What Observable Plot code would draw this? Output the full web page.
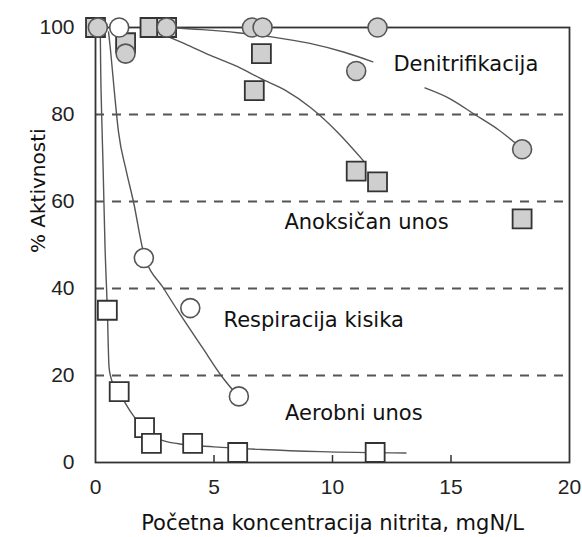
<!DOCTYPE html>
<html>
<head>
<meta charset="utf-8">
<script src="https://cdn.jsdelivr.net/npm/d3@7"></script>
<script src="https://cdn.jsdelivr.net/npm/@observablehq/plot@0.6"></script>
<style>
  html, body { margin: 0; padding: 0; background: white; }
</style>
</head>
<body>
<script>
// Axis ticks
const xTicks = [0, 5, 10, 15, 20];
const xInnerTicks = [5, 10, 15];
const yTicks = [0, 20, 40, 60, 80, 100];
const gridY = [20, 40, 60, 80];
const tickLen = 1.6; // inward tick length, in % units

// Denitrifikacija (gray circles)
const denitX = [0.1, 1.27, 3.0, 6.6, 7.05, 11.0, 11.9, 18.0];
const denitY = [100, 94, 100, 100, 100, 90, 100, 72];
// Anoksičan unos (gray squares)
const anoxX = [0, 1.27, 2.3, 3.0, 6.7, 7.0, 11.0, 11.9, 18.0];
const anoxY = [100, 96.5, 100, 100, 85.5, 94, 67, 64.5, 56];
// Respiracija kisika (white circles)
const respX = [1.0, 2.04, 4.0, 6.05];
const respY = [100, 47, 35.5, 15.2];
// Aerobni unos (white squares)
const aerX = [0.5, 1.0, 2.07, 2.36, 4.1, 6.0, 11.8];
const aerY = [35, 16.3, 8, 4.4, 4.4, 2.3, 2.3];

// Fitted curves
const denitCurveX = [3.0, 4.5, 6.0, 7.5, 9.0, 10.5, 11.7, 13.9, 15.0, 16.0, 17.0, 17.9];
const denitCurveY = [100, 99.5, 98.8, 97.8, 96.4, 94.3, 92.1, 86.1, 83.5, 80, 76.5, 72.6];
const denitCurveSeg = [1, 1, 1, 1, 1, 1, 1, 2, 2, 2, 2, 2];
const anoxCurveX = [2.3, 2.75, 3.8, 4.85, 6.0, 6.96, 8.0, 9.07, 10.2, 11.3];
const anoxCurveY = [100, 98.7, 96.2, 93.6, 91, 88.3, 85.6, 81.6, 76, 69.4];
const respCurveX = [0.55, 0.63, 0.8, 0.97, 1.3, 1.6, 2.04, 2.88, 3.7, 4.5, 5.3, 6.05];
const respCurveY = [99, 95, 85, 76, 67, 60, 48, 40, 33, 26.5, 20, 15];
const aerCurveX = [0.2, 0.22, 0.26, 0.32, 0.4, 0.5, 0.57, 0.65, 0.8, 1.05, 1.5, 2.0, 2.7, 3.5, 5.0, 7.0, 9.5, 13.1];
const aerCurveY = [100, 90, 80, 68, 50, 35, 22, 19.5, 17.5, 15.5, 11.5, 8, 5.3, 4.3, 3.6, 3.0, 2.5, 2.2];

// Labels
const labelText = ["Denitrifikacija", "Anoksičan unos", "Respiracija kisika", "Aerobni unos"];
const labelX = [12.57, 7.97, 5.4, 8.0];
const labelY = [91.6, 55.2, 32.8, 11.4];
const xTitle = "Početna koncentracija nitrita, mgN/L";
const yTitle = "% Aktivnosti";

const pts = (xs, ys) => xs.map((x, i) => ({x, y: ys[i]}));
const denit = pts(denitX, denitY);
const anox = pts(anoxX, anoxY);
const resp = pts(respX, respY);
const aer = pts(aerX, aerY);
const denitCurve = denitCurveX.map((x, i) => ({x, y: denitCurveY[i], seg: denitCurveSeg[i]}));
const anoxCurve = pts(anoxCurveX, anoxCurveY);
const respCurve = pts(respCurveX, respCurveY);
const aerCurve = pts(aerCurveX, aerCurveY);
const labels = labelText.map((t, i) => ({t, x: labelX[i], y: labelY[i]}));

const markerStroke = "#333";
const grayFill = "#cfcfcf";
const curveStroke = "#555";
const textFont = "DejaVu Sans";

const chart = Plot.plot({
  width: 582,
  height: 537,
  marginLeft: 95,
  marginRight: 13,
  marginTop: 27,
  marginBottom: 75,
  x: {domain: [0, 20]},
  y: {domain: [0, 100]},
  style: {background: "white", fontFamily: textFont},
  marks: [
    Plot.ruleY(gridY, {stroke: "#555", strokeWidth: 2, strokeDasharray: "9,8"}),
    Plot.ruleX(xInnerTicks, {y1: yTicks[0], y2: tickLen, stroke: "#333", strokeWidth: 1.5}),
    Plot.frame({stroke: "#333", strokeWidth: 1.8}),
    Plot.line(aerCurve, {x: "x", y: "y", curve: "monotone-x", stroke: curveStroke, strokeWidth: 1.4}),
    Plot.line(respCurve, {x: "x", y: "y", curve: "monotone-x", stroke: curveStroke, strokeWidth: 1.4}),
    Plot.line(anoxCurve, {x: "x", y: "y", curve: "monotone-x", stroke: curveStroke, strokeWidth: 1.4}),
    Plot.line(denitCurve, {x: "x", y: "y", z: "seg", curve: "monotone-x", stroke: curveStroke, strokeWidth: 1.4}),
    Plot.dot(aer, {x: "x", y: "y", symbol: "square", r: 10.7, fill: "white", stroke: markerStroke, strokeWidth: 1.8}),
    Plot.dot(anox, {x: "x", y: "y", symbol: "square", r: 10.7, fill: grayFill, stroke: markerStroke, strokeWidth: 1.8}),
    Plot.dot(resp, {x: "x", y: "y", r: 9.5, fill: "white", stroke: "#555", strokeWidth: 1.6}),
    Plot.dot(denit, {x: "x", y: "y", r: 9.5, fill: grayFill, stroke: "#555", strokeWidth: 1.6}),
    Plot.text(labels, {x: "x", y: "y", text: "t", textAnchor: "start", fontSize: 21, fontFamily: textFont, fill: "#111"}),
    Plot.axisX(xTicks, {tickSize: 0, tickPadding: 17, fontSize: 21, fontFamily: "Liberation Sans", fill: "#222", label: null}),
    Plot.axisY(yTicks, {tickSize: 0, tickPadding: 21, fontSize: 21, fontFamily: "Liberation Sans", fill: "#222", label: null}),
    Plot.text([xTitle], {frameAnchor: "bottom", dy: 67, fontSize: 21, fontFamily: textFont, fill: "#111"}),
    Plot.text([yTitle], {frameAnchor: "left", rotate: -90, dx: -57, dy: 8, fontSize: 20, fontFamily: textFont, fill: "#111"})
  ]
});
document.body.appendChild(chart);
</script>
</body>
</html>
